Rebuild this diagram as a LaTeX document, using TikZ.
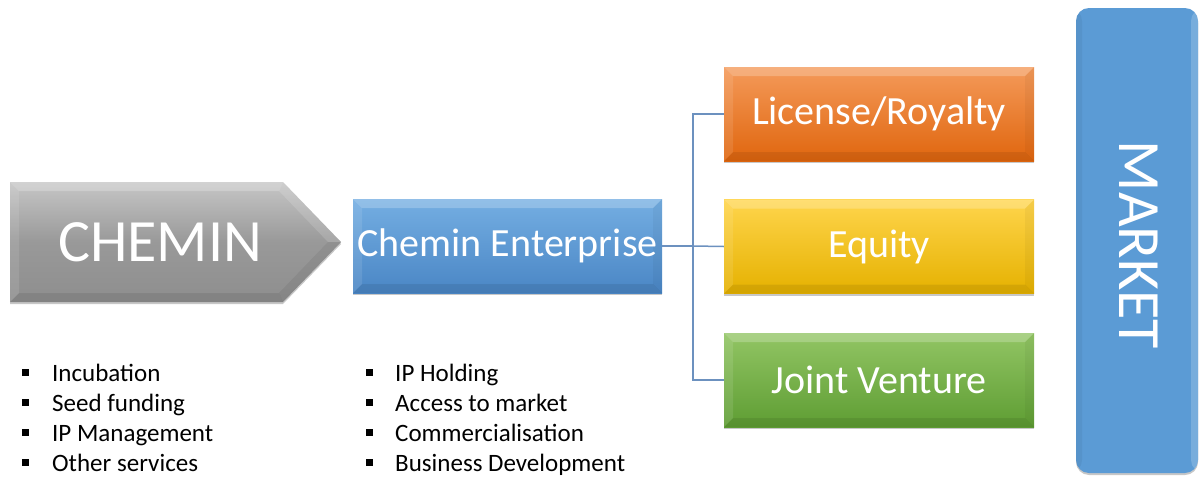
\documentclass[tikz,border=0pt]{standalone}
\usepackage{fontspec}
\setmainfont{Carlito}
\usetikzlibrary{shadows}

\definecolor{grayTop}{HTML}{C6C6C6}
\definecolor{grayBot}{HTML}{8E8E8E}
\definecolor{blueTop}{HTML}{74AEE2}
\definecolor{blueBot}{HTML}{4A86C5}
\definecolor{orgTop}{HTML}{F49A5A}
\definecolor{orgBot}{HTML}{E0660E}
\definecolor{yelTop}{HTML}{FFD54C}
\definecolor{yelBot}{HTML}{E5B100}
\definecolor{grnTop}{HTML}{92C564}
\definecolor{grnBot}{HTML}{5E9D33}
\definecolor{mkt}{HTML}{5B9BD5}
\definecolor{link}{HTML}{6C91BF}

\tikzset{
  bevel/.style={path picture={
    \coordinate (pnw) at (path picture bounding box.north west);
    \coordinate (pne) at (path picture bounding box.north east);
    \coordinate (psw) at (path picture bounding box.south west);
    \coordinate (pse) at (path picture bounding box.south east);
    \fill[white,opacity=.22] (pnw) -- (pne) -- ([xshift=-9pt,yshift=-9pt]pne) -- ([xshift=9pt,yshift=-9pt]pnw) -- cycle;
    \fill[white,opacity=.10] (pnw) -- ([xshift=9pt,yshift=-9pt]pnw) -- ([xshift=9pt,yshift=9pt]psw) -- (psw) -- cycle;
    \fill[black,opacity=.08] (psw) -- (pse) -- ([xshift=-9pt,yshift=9pt]pse) -- ([xshift=9pt,yshift=9pt]psw) -- cycle;
    \fill[black,opacity=.04] (pne) -- ([xshift=-9pt,yshift=-9pt]pne) -- ([xshift=-9pt,yshift=9pt]pse) -- (pse) -- cycle;
  }},
  shade/.style={drop shadow={shadow xshift=0pt,shadow yshift=-2pt,opacity=.22,fill=black}},
  card/.style={rectangle, bevel, shade, text=white,
    font=\fontsize{40}{40}\selectfont, inner sep=0pt},
  sidecard/.style={card, minimum width=310pt, minimum height=94pt},
  conn/.style={draw=link, line width=1.5pt},
  bullets/.style={anchor=base west, inner sep=0pt,
    font=\fontsize{25}{30}\selectfont},
}

\newcommand{\bsq}{\raisebox{5pt}{\rule{7pt}{7pt}}}

\begin{document}
\begin{tikzpicture}[x=1pt,y=-1pt]
\useasboundingbox (0,0) rectangle (1200,477);

% CHEMIN pentagon arrow
\path[shade, top color=grayTop, bottom color=grayBot, middle color=gray!80!white]
  (10,182) -- (283,182) -- (341,242) -- (283,302) -- (10,302) -- cycle;
\fill[white,opacity=.22] (10,182) -- (283,182) -- (279,191) -- (19,191) -- cycle;
\fill[white,opacity=.14] (283,182) -- (341,242) -- (328,242) -- (279,191) -- cycle;
\fill[white,opacity=.10] (10,182) -- (19,191) -- (19,293) -- (10,302) -- cycle;
\fill[black,opacity=.08] (10,302) -- (283,302) -- (279,293) -- (19,293) -- cycle;
\fill[black,opacity=.06] (283,302) -- (341,242) -- (328,242) -- (279,293) -- cycle;
\node[text=white, font=\fontsize{60}{60}\selectfont, inner sep=0pt] (chemin) at (160,242) {CHEMIN};

% central enterprise box
\node[card, top color=blueTop, bottom color=blueBot,
  minimum width=309pt, minimum height=94pt] (ent) at (507.5,246) {\raisebox{-2pt}{Chemin Enterprise}};

% exploitation routes
\node[sidecard, top color=orgTop, bottom color=orgBot] (lic) at (879,114) {\raisebox{-1pt}{License/Royalty}};
\node[sidecard, top color=yelTop, bottom color=yelBot] (eq) at (879,246.5) {Equity};
\node[sidecard, top color=grnTop, bottom color=grnBot] (jv) at (879,380) {Joint Venture};

% market bar
\node[rectangle, rounded corners=13pt, fill=mkt, minimum width=122pt, minimum height=465pt,
  shade, inner sep=0pt,
  path picture={
    \fill[white,opacity=.18] ([xshift=-7pt]path picture bounding box.north east) rectangle (path picture bounding box.south east);
    \fill[black,opacity=.05] (path picture bounding box.north west) rectangle ([xshift=6pt]path picture bounding box.south west);
  }] (market) at (1137,240.5) {};
\node[text=white, rotate=-90, font=\fontsize{60}{60}\selectfont, inner sep=0pt] (mlabel) at (1139,245) {MARKET};

% tree connector
\coordinate (bus) at (693,246);
\draw[conn] (ent.east) -- (bus);
\draw[conn] (bus) |- (lic.west);
\draw[conn] (bus) -- (eq.west);
\draw[conn] (bus) |- (jv.west);

% service lists
\node[bullets] (listA) at (22,381) {%
  \begin{tabular}[t]{@{}l@{\hspace{23pt}}l@{}}
  \bsq & Incubation\\
  \bsq & Seed funding\\
  \bsq & IP Management\\
  \bsq & Other services
  \end{tabular}};
\node[bullets] (listB) at (366,381) {%
  \begin{tabular}[t]{@{}l@{\hspace{22pt}}l@{}}
  \bsq & IP Holding\\
  \bsq & Access to market\\
  \bsq & Commercialisation\\
  \bsq & Business Development
  \end{tabular}};
\end{tikzpicture}
\end{document}
